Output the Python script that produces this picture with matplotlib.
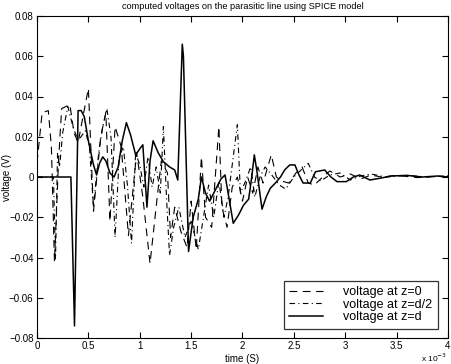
import matplotlib
matplotlib.use("Agg")
import matplotlib.pyplot as plt

plt.rcParams['font.family'] = ['Liberation Sans', 'DejaVu Sans']

# time in ms (axis shown as x 10^-3 s)
t_z0 = [0, 0.05, 0.11, 0.14, 0.17, 0.21, 0.24, 0.32, 0.36, 0.40, 0.44, 0.50, 0.55,
        0.62, 0.67, 0.71, 0.76, 0.82, 0.89, 0.97, 1.03, 1.10, 1.17, 1.21,
        1.27, 1.30, 1.34, 1.40, 1.46, 1.50, 1.55, 1.60, 1.64, 1.70, 1.77, 1.80, 1.85,
        1.90, 1.95, 2.0, 2.05, 2.10, 2.15, 2.20, 2.28, 2.33, 2.38, 2.45, 2.52, 2.58, 2.64,
        2.70, 2.78, 2.85, 2.95, 3.05, 3.15, 3.25, 3.35, 3.5, 3.7, 3.9, 4.0]
v_z0 = [0.007, 0.032, 0.033, 0.015, -0.042, 0.0085, 0.034, 0.036, 0.022, 0.017, 0.028, 0.044, -0.017,
        0.020, 0.032, -0.022, 0.025, 0.015, -0.029, 0.012, -0.010, -0.043, -0.010, 0.008,
        0.002, -0.030, -0.015, -0.027, -0.035, -0.012, -0.036, 0.010, -0.02, -0.025, 0.025, -0.015, -0.025,
        -0.005, 0.0, -0.012, 0.0, -0.008, 0.005, -0.003, 0.011, 0.0, -0.002, -0.003, 0.002, 0.005, -0.003,
        -0.004, 0.0, 0.003, 0.0, 0.0015, -0.001, 0.001, 0.0, 0.0008, -0.0003, 0.0003, 0.0]

t_zh = [0, 0.16, 0.18, 0.20, 0.22, 0.25, 0.30, 0.35, 0.40, 0.47, 0.51, 0.55, 0.60, 0.64, 0.68,
        0.72, 0.76, 0.80, 0.84, 0.88, 0.92, 0.96, 1.00, 1.04, 1.08, 1.12, 1.16, 1.20, 1.23, 1.26,
        1.29, 1.33, 1.38, 1.44, 1.50, 1.57, 1.62, 1.67, 1.72, 1.77, 1.82, 1.86, 1.95, 1.98, 2.03,
        2.08, 2.12, 2.17, 2.22, 2.30, 2.36, 2.42, 2.50, 2.58, 2.64, 2.70, 2.76, 2.85, 2.95, 3.05,
        3.15, 3.25, 3.4, 3.6, 3.8, 4.0]
v_zh = [0.0, 0.0, -0.041, 0.012, 0.005, 0.022, 0.035, 0.025, 0.018, 0.023, 0.015, -0.015, 0.012, 0.025, 0.034,
        0.020, -0.030, 0.010, 0.015, -0.004, -0.033, 0.012, 0.006, -0.005, 0.010, -0.005, 0.005, -0.008, 0.025, -0.01,
        -0.039, -0.025, -0.015, -0.030, -0.022, -0.036, -0.020, -0.004, -0.020, -0.002, -0.020, -0.010, 0.026, -0.008, -0.002,
        0.005, -0.010, 0.0, 0.005, 0.0, -0.004, -0.006, 0.0, 0.004, 0.0068, 0.0, -0.002, 0.001, 0.002, -0.0015,
        0.0005, 0.0015, 0.0, 0.0008, 0.0, 0.0006]

t_zd = [0, 0.33, 0.365, 0.40, 0.43, 0.46, 0.50, 0.55, 0.58, 0.61, 0.64, 0.67, 0.71, 0.75, 0.79, 0.83,
        0.87, 0.91, 0.96, 1.00, 1.03, 1.07, 1.10, 1.13, 1.18, 1.23, 1.29, 1.34, 1.37, 1.414, 1.425,
        1.475, 1.52, 1.57, 1.60, 1.64, 1.68, 1.74, 1.79, 1.83, 1.86, 1.91, 1.96, 2.01, 2.06, 2.09,
        2.115, 2.14, 2.19, 2.23, 2.27, 2.32, 2.37, 2.41, 2.46, 2.51, 2.55, 2.59, 2.66, 2.71, 2.80,
        2.86, 2.92, 3.01, 3.08, 3.14, 3.24, 3.35, 3.45, 3.6, 3.75, 3.9, 4.0]
v_zd = [0, 0, -0.074, 0.033, 0.033, 0.030, 0.018, 0.006, 0.001, 0.007, 0.010, 0.008, 0.002, 0.0, 0.005, 0.018,
        0.027, 0.021, 0.011, 0.014, 0.016, -0.015, 0.008, 0.018, 0.012, 0.0076, 0.005, 0.0035, -0.0015, 0.066, 0.060,
        -0.037, -0.020, -0.011, 0.0, -0.008, -0.012, -0.006, -0.001, 0.001, -0.008, -0.023, -0.019, -0.014, -0.011, 0.0,
        0.011, 0.003, -0.016, -0.010, -0.0056, -0.003, 0.0, 0.0035, 0.006, 0.006, 0.001, -0.003, -0.003, 0.0026, 0.0035,
        0.0, -0.0023, -0.0023, 0.0, 0.001, -0.0015, -0.0005, 0.0005, 0.0008, 0.0, 0.0005, 0.0]

labels = ['voltage at z=0', 'voltage at z=d/2', 'voltage at z=d']
xticks = [0, 0.5, 1, 1.5, 2, 2.5, 3, 3.5, 4]
xticklabels = ['0', '0.5', '1', '1.5', '2', '2.5', '3', '3.5', '4']
yticks = [-0.08, -0.06, -0.04, -0.02, 0, 0.02, 0.04, 0.06, 0.08]
yticklabels = ['\u22120.08', '\u22120.06', '\u22120.04', '\u22120.02', '0', '0.02', '0.04', '0.06', '0.08']

W, H = 452, 364
fig = plt.figure(figsize=(W / 100, H / 100), dpi=100)
ax = fig.add_axes([37 / W, 1 - 338 / H, 411 / W, 322 / H])
ax.plot(t_z0, v_z0, color='black', lw=0.8, ls=(0, (7, 5)), label=labels[0])
ax.plot(t_zh, v_zh, color='black', lw=0.8, ls=(0, (5, 3, 1, 3)), label=labels[1])
ax.plot(t_zd, v_zd, color='black', lw=1.1, ls='-', label=labels[2])

ax.set_xlim(0, 4)
ax.set_ylim(-0.08, 0.08)
ax.set_xticks(xticks)
ax.set_xticklabels(xticklabels)
ax.set_yticks(yticks)
ax.set_yticklabels(yticklabels)
ax.tick_params(direction='in', top=True, right=True, labelsize=7, length=4, width=0.8, pad=2.5)
for s in ax.spines.values():
    s.set_linewidth(0.8)

ax.set_xlabel('time (S)', fontsize=7, labelpad=2)
fig.text(7 / W, 1 - 177 / H, 'voltage (V)', rotation=90, fontsize=7, ha='center', va='center')
ax.set_title('computed voltages on the parasitic line using SPICE model', fontsize=6.6, pad=5)
fig.text(447 / W, 0.5 / H, r'x 10$^{-3}$', fontsize=6, ha='right', va='bottom')

leg = ax.legend(loc='lower right', fontsize=9, frameon=True, fancybox=False, edgecolor='black',
                handlelength=2.7, handletextpad=1.6, borderpad=0.45, labelspacing=0.05,
                borderaxespad=0, bbox_to_anchor=(1 - 10 / 411, 9 / 322))
leg.get_frame().set_linewidth(0.9)

fig.savefig('out.png', dpi=100)
